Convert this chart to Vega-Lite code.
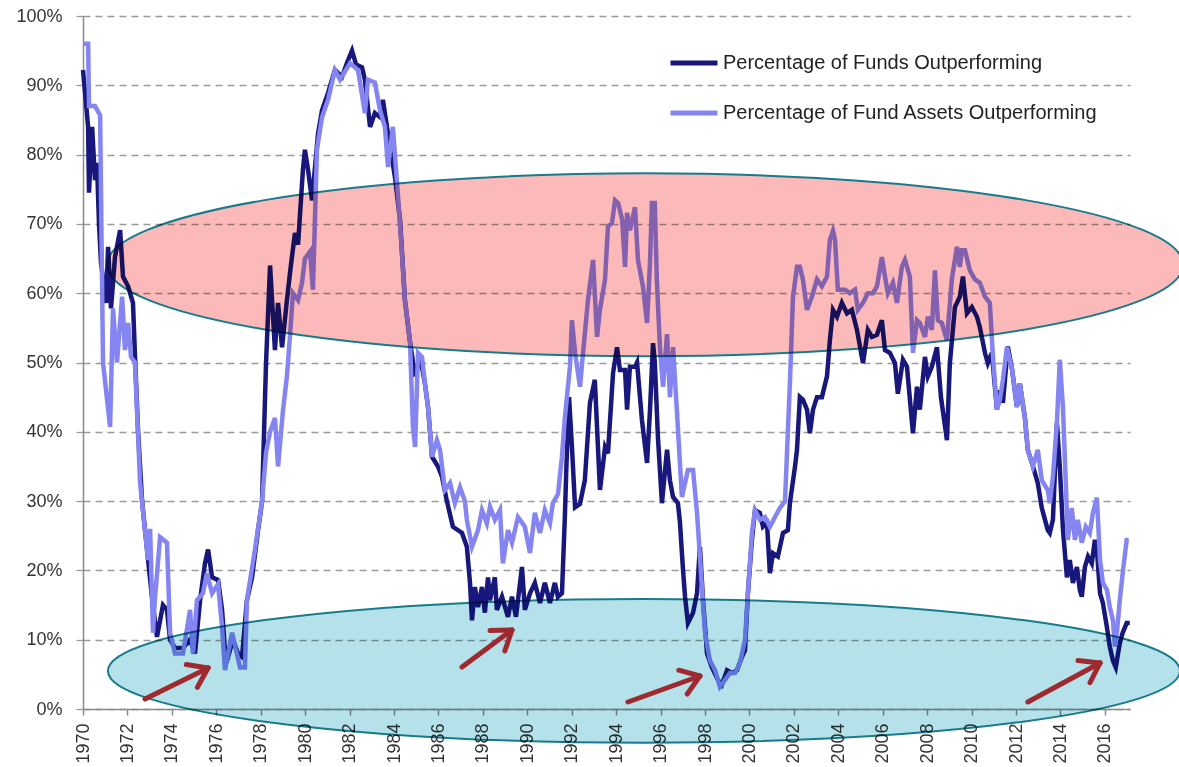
{
  "$schema": "https://vega.github.io/schema/vega-lite/v6.json",
  "autosize": {"type": "none"},
  "padding": {"left": 83, "top": 16, "right": 49, "bottom": 58},
  "width": 1047,
  "height": 693,
  "background": "white",
  "config": {"view": {"stroke": null}, "font": "Liberation Sans"},
  "datasets": {
    "funds": [
      {"d":1970.00,"v":92.2},{"d":1970.23,"v":84},{"d":1970.27,"v":74.5},{"d":1970.41,"v":84},{"d":1970.54,"v":76.3},{"d":1970.63,"v":78.8},{"d":1970.72,"v":70},{"d":1970.81,"v":64.4},{"d":1971.04,"v":58.6},{"d":1971.13,"v":66.7},{"d":1971.26,"v":57.8},{"d":1971.44,"v":65.2},{"d":1971.67,"v":69.1},{"d":1971.80,"v":62.4},{"d":1972.03,"v":61},{"d":1972.25,"v":58.6},{"d":1972.34,"v":51},{"d":1972.48,"v":40},{"d":1972.66,"v":30},{"d":1972.93,"v":21.5},{"d":1973.11,"v":16},{"d":1973.33,"v":10.4},{"d":1973.60,"v":15},{"d":1973.78,"v":14.3},{"d":1973.92,"v":10},{"d":1974.14,"v":8.8},{"d":1974.50,"v":8.8},{"d":1974.82,"v":10},{"d":1975.04,"v":8},{"d":1975.27,"v":15.7},{"d":1975.49,"v":21},{"d":1975.63,"v":23},{"d":1975.81,"v":19},{"d":1976.08,"v":18.6},{"d":1976.26,"v":14.3},{"d":1976.39,"v":8.5},{"d":1976.53,"v":7.5},{"d":1976.75,"v":10},{"d":1976.98,"v":8},{"d":1977.16,"v":7.5},{"d":1977.38,"v":15.7},{"d":1977.61,"v":19},{"d":1977.88,"v":25.8},{"d":1978.06,"v":30},{"d":1978.24,"v":50},{"d":1978.42,"v":64},{"d":1978.51,"v":59},{"d":1978.64,"v":51.8},{"d":1978.78,"v":58.6},{"d":1978.96,"v":52.2},{"d":1979.18,"v":59},{"d":1979.32,"v":63},{"d":1979.54,"v":68.7},{"d":1979.68,"v":67},{"d":1979.90,"v":77.8},{"d":1979.99,"v":80.7},{"d":1980.13,"v":77.8},{"d":1980.31,"v":73.4},{"d":1980.58,"v":83},{"d":1980.76,"v":86.4},{"d":1981.03,"v":88.9},{"d":1981.34,"v":92.2},{"d":1981.66,"v":91.2},{"d":1981.88,"v":93.2},{"d":1982.11,"v":95},{"d":1982.29,"v":93},{"d":1982.56,"v":92.6},{"d":1982.69,"v":90.8},{"d":1982.92,"v":84},{"d":1983.14,"v":86},{"d":1983.37,"v":85.4},{"d":1983.50,"v":87.9},{"d":1983.73,"v":83},{"d":1984.04,"v":76.8},{"d":1984.27,"v":70.6},{"d":1984.49,"v":59},{"d":1984.72,"v":53},{"d":1984.95,"v":48},{"d":1985.17,"v":51},{"d":1985.39,"v":47},{"d":1985.53,"v":43.6},{"d":1985.71,"v":36.4},{"d":1985.98,"v":35},{"d":1986.16,"v":33.5},{"d":1986.38,"v":30},{"d":1986.65,"v":26.3},{"d":1987.06,"v":25.4},{"d":1987.28,"v":23.4},{"d":1987.42,"v":18.2},{"d":1987.51,"v":12.8},{"d":1987.64,"v":17.6},{"d":1987.78,"v":14.7},{"d":1987.96,"v":17.6},{"d":1988.09,"v":13.9},{"d":1988.23,"v":19},{"d":1988.32,"v":15.7},{"d":1988.54,"v":19},{"d":1988.63,"v":14.3},{"d":1988.86,"v":16.2},{"d":1989.13,"v":13.3},{"d":1989.31,"v":16.2},{"d":1989.49,"v":13.3},{"d":1989.76,"v":20.5},{"d":1989.89,"v":14.3},{"d":1990.12,"v":16.7},{"d":1990.34,"v":18.2},{"d":1990.57,"v":15.3},{"d":1990.79,"v":18.2},{"d":1991.02,"v":15.3},{"d":1991.24,"v":18.2},{"d":1991.38,"v":16.2},{"d":1991.56,"v":16.7},{"d":1991.69,"v":27.7},{"d":1991.76,"v":35},{"d":1991.88,"v":45},{"d":1992.01,"v":37.8},{"d":1992.15,"v":29.1},{"d":1992.37,"v":29.6},{"d":1992.59,"v":33},{"d":1992.82,"v":44.2},{"d":1993.04,"v":47.5},{"d":1993.27,"v":31.6},{"d":1993.50,"v":37.8},{"d":1993.63,"v":36.9},{"d":1993.86,"v":48.5},{"d":1994.04,"v":52.2},{"d":1994.17,"v":48.9},{"d":1994.40,"v":48.9},{"d":1994.49,"v":43.2},{"d":1994.62,"v":49.4},{"d":1994.85,"v":49.4},{"d":1994.94,"v":50},{"d":1995.16,"v":41.7},{"d":1995.39,"v":35.5},{"d":1995.52,"v":43},{"d":1995.66,"v":52.8},{"d":1995.74,"v":50},{"d":1995.88,"v":39.2},{"d":1996.06,"v":29.7},{"d":1996.29,"v":37.4},{"d":1996.42,"v":33},{"d":1996.56,"v":30.6},{"d":1996.78,"v":29.7},{"d":1996.87,"v":27},{"d":1997.00,"v":20.5},{"d":1997.10,"v":16.2},{"d":1997.23,"v":12.4},{"d":1997.46,"v":13.9},{"d":1997.64,"v":16.7},{"d":1997.77,"v":23.4},{"d":1997.91,"v":15.7},{"d":1998.09,"v":8},{"d":1998.31,"v":6},{"d":1998.58,"v":4.2},{"d":1998.76,"v":3.5},{"d":1998.99,"v":5.6},{"d":1999.21,"v":5.2},{"d":1999.44,"v":5.6},{"d":1999.66,"v":7.5},{"d":1999.80,"v":8.5},{"d":1999.93,"v":16.7},{"d":2000.11,"v":24.4},{"d":2000.25,"v":28.7},{"d":2000.47,"v":28.3},{"d":2000.61,"v":26.3},{"d":2000.79,"v":26.8},{"d":2000.92,"v":19.6},{"d":2001.06,"v":22.5},{"d":2001.28,"v":22},{"d":2001.51,"v":25.4},{"d":2001.73,"v":25.8},{"d":2001.82,"v":29.7},{"d":2002.05,"v":35},{"d":2002.14,"v":37.4},{"d":2002.27,"v":45},{"d":2002.41,"v":44.6},{"d":2002.59,"v":43.2},{"d":2002.72,"v":39.8},{"d":2002.86,"v":43.2},{"d":2003.04,"v":45},{"d":2003.26,"v":45},{"d":2003.49,"v":48},{"d":2003.62,"v":53.2},{"d":2003.76,"v":57.6},{"d":2003.94,"v":56.6},{"d":2004.16,"v":58.6},{"d":2004.39,"v":57.1},{"d":2004.61,"v":57.6},{"d":2004.84,"v":54.7},{"d":2005.11,"v":49.9},{"d":2005.33,"v":54.7},{"d":2005.51,"v":53.7},{"d":2005.74,"v":54},{"d":2005.96,"v":56.1},{"d":2006.10,"v":51.8},{"d":2006.32,"v":51.4},{"d":2006.55,"v":49.9},{"d":2006.68,"v":45.5},{"d":2006.91,"v":50.4},{"d":2007.09,"v":49.4},{"d":2007.36,"v":39.8},{"d":2007.54,"v":46.5},{"d":2007.67,"v":43.2},{"d":2007.90,"v":50.8},{"d":2008.03,"v":48},{"d":2008.21,"v":49.4},{"d":2008.44,"v":52.2},{"d":2008.62,"v":45},{"d":2008.89,"v":38.8},{"d":2009.02,"v":49.9},{"d":2009.25,"v":58},{"d":2009.47,"v":59.5},{"d":2009.61,"v":62.4},{"d":2009.79,"v":57.1},{"d":2010.01,"v":58},{"d":2010.24,"v":56.6},{"d":2010.37,"v":55.1},{"d":2010.60,"v":51.4},{"d":2010.73,"v":49.9},{"d":2010.91,"v":51.4},{"d":2011.14,"v":43.2},{"d":2011.27,"v":46},{"d":2011.41,"v":44.2},{"d":2011.63,"v":52.3},{"d":2011.82,"v":49},{"d":2012.04,"v":43.6},{"d":2012.17,"v":47},{"d":2012.40,"v":42},{"d":2012.53,"v":37.4},{"d":2012.76,"v":35},{"d":2012.98,"v":32.6},{"d":2013.16,"v":29},{"d":2013.43,"v":25.8},{"d":2013.52,"v":25.4},{"d":2013.66,"v":27.3},{"d":2013.84,"v":41.3},{"d":2013.97,"v":35},{"d":2014.11,"v":26},{"d":2014.29,"v":19},{"d":2014.42,"v":21.5},{"d":2014.56,"v":18.2},{"d":2014.74,"v":20.5},{"d":2014.87,"v":17.2},{"d":2014.96,"v":16.2},{"d":2015.10,"v":20.5},{"d":2015.24,"v":22},{"d":2015.41,"v":21},{"d":2015.55,"v":24.4},{"d":2015.64,"v":23},{"d":2015.78,"v":16.7},{"d":2015.91,"v":15.3},{"d":2016.09,"v":11.8},{"d":2016.22,"v":9},{"d":2016.36,"v":7},{"d":2016.49,"v":6},{"d":2016.67,"v":9.5},{"d":2016.80,"v":11},{"d":2016.98,"v":12.4},{"d":2017.12,"v":12.4}
    ],
    "assets": [
      {"d":1970.00,"v":96},{"d":1970.23,"v":96},{"d":1970.27,"v":87},{"d":1970.54,"v":87},{"d":1970.77,"v":85.7},{"d":1970.90,"v":50},{"d":1971.22,"v":40.7},{"d":1971.35,"v":57.8},{"d":1971.53,"v":50},{"d":1971.76,"v":59.5},{"d":1971.89,"v":51.8},{"d":1972.03,"v":55.7},{"d":1972.16,"v":50.8},{"d":1972.34,"v":50},{"d":1972.57,"v":32.6},{"d":1972.79,"v":25.8},{"d":1972.93,"v":21.5},{"d":1973.02,"v":26},{"d":1973.15,"v":11},{"d":1973.24,"v":16},{"d":1973.47,"v":24.8},{"d":1973.78,"v":24},{"d":1973.92,"v":11},{"d":1974.14,"v":8},{"d":1974.50,"v":8},{"d":1974.82,"v":14.3},{"d":1974.95,"v":8},{"d":1975.13,"v":15.7},{"d":1975.40,"v":16.7},{"d":1975.58,"v":19.6},{"d":1975.81,"v":16.7},{"d":1976.08,"v":18},{"d":1976.26,"v":11.8},{"d":1976.39,"v":5.6},{"d":1976.71,"v":11},{"d":1977.07,"v":6},{"d":1977.29,"v":6},{"d":1977.38,"v":15.7},{"d":1977.74,"v":23},{"d":1978.06,"v":30},{"d":1978.24,"v":37},{"d":1978.42,"v":40},{"d":1978.64,"v":42},{"d":1978.78,"v":35},{"d":1979.00,"v":43},{"d":1979.18,"v":48},{"d":1979.32,"v":54},{"d":1979.45,"v":60},{"d":1979.68,"v":59},{"d":1979.86,"v":61.5},{"d":1979.99,"v":65},{"d":1980.22,"v":66},{"d":1980.35,"v":60.5},{"d":1980.53,"v":80.7},{"d":1980.76,"v":85.4},{"d":1981.03,"v":87.9},{"d":1981.34,"v":92.2},{"d":1981.57,"v":90.8},{"d":1982.02,"v":93.2},{"d":1982.38,"v":92.2},{"d":1982.69,"v":86},{"d":1982.83,"v":90.8},{"d":1983.14,"v":90.4},{"d":1983.37,"v":86.4},{"d":1983.59,"v":84},{"d":1983.73,"v":78.2},{"d":1983.95,"v":84},{"d":1984.27,"v":70},{"d":1984.49,"v":59},{"d":1984.72,"v":53},{"d":1984.85,"v":40.7},{"d":1984.95,"v":37.8},{"d":1985.08,"v":51.4},{"d":1985.26,"v":50.8},{"d":1985.39,"v":47},{"d":1985.53,"v":43.6},{"d":1985.71,"v":36.4},{"d":1985.93,"v":38.8},{"d":1986.07,"v":37.4},{"d":1986.29,"v":31.6},{"d":1986.52,"v":32.6},{"d":1986.74,"v":29.7},{"d":1986.97,"v":32},{"d":1987.19,"v":30},{"d":1987.28,"v":27.3},{"d":1987.51,"v":23.4},{"d":1987.78,"v":25.8},{"d":1987.96,"v":28.7},{"d":1988.18,"v":26.8},{"d":1988.32,"v":29.2},{"d":1988.54,"v":27.3},{"d":1988.77,"v":28.7},{"d":1988.90,"v":21},{"d":1989.13,"v":25.8},{"d":1989.31,"v":24},{"d":1989.58,"v":27.7},{"d":1989.89,"v":26.3},{"d":1990.12,"v":22.5},{"d":1990.34,"v":28.3},{"d":1990.57,"v":25.4},{"d":1990.79,"v":28.7},{"d":1991.02,"v":26.8},{"d":1991.15,"v":29.7},{"d":1991.38,"v":31},{"d":1991.56,"v":36.4},{"d":1991.69,"v":42},{"d":1991.92,"v":49.4},{"d":1992.01,"v":56.1},{"d":1992.15,"v":51.4},{"d":1992.37,"v":46.5},{"d":1992.73,"v":59},{"d":1992.96,"v":64.8},{"d":1993.14,"v":53.7},{"d":1993.27,"v":57.6},{"d":1993.50,"v":62},{"d":1993.63,"v":69.6},{"d":1993.81,"v":70.1},{"d":1993.95,"v":73.4},{"d":1994.09,"v":73},{"d":1994.27,"v":70.6},{"d":1994.40,"v":63.8},{"d":1994.49,"v":71.6},{"d":1994.62,"v":69.1},{"d":1994.85,"v":72.4},{"d":1994.98,"v":64.8},{"d":1995.21,"v":60.9},{"d":1995.39,"v":55.7},{"d":1995.52,"v":64.2},{"d":1995.61,"v":73},{"d":1995.74,"v":73},{"d":1995.83,"v":62},{"d":1995.97,"v":52.2},{"d":1996.11,"v":46.5},{"d":1996.29,"v":54.1},{"d":1996.42,"v":45},{"d":1996.56,"v":52.2},{"d":1996.74,"v":42.7},{"d":1996.96,"v":30.6},{"d":1997.23,"v":34.5},{"d":1997.46,"v":34.5},{"d":1997.64,"v":28.3},{"d":1997.86,"v":17.6},{"d":1998.00,"v":11},{"d":1998.22,"v":7},{"d":1998.45,"v":5.6},{"d":1998.67,"v":3.2},{"d":1998.90,"v":4.2},{"d":1999.12,"v":5.2},{"d":1999.35,"v":5.2},{"d":1999.57,"v":6.6},{"d":1999.80,"v":10},{"d":1999.93,"v":16.7},{"d":2000.11,"v":25.4},{"d":2000.25,"v":28.7},{"d":2000.47,"v":27.3},{"d":2000.70,"v":27.7},{"d":2000.92,"v":26.3},{"d":2001.15,"v":27.7},{"d":2001.37,"v":29},{"d":2001.60,"v":30},{"d":2001.82,"v":47},{"d":2001.96,"v":59.5},{"d":2002.14,"v":63.8},{"d":2002.27,"v":63.8},{"d":2002.41,"v":61.9},{"d":2002.59,"v":57.6},{"d":2002.81,"v":59.5},{"d":2003.04,"v":62},{"d":2003.26,"v":61},{"d":2003.49,"v":62.4},{"d":2003.62,"v":67.7},{"d":2003.76,"v":69},{"d":2003.85,"v":67.7},{"d":2003.98,"v":60.5},{"d":2004.30,"v":60.5},{"d":2004.52,"v":60},{"d":2004.75,"v":60.5},{"d":2004.88,"v":57.6},{"d":2005.11,"v":58.6},{"d":2005.33,"v":60},{"d":2005.56,"v":60},{"d":2005.74,"v":61},{"d":2005.96,"v":65.2},{"d":2006.10,"v":62.4},{"d":2006.23,"v":60},{"d":2006.46,"v":61.5},{"d":2006.64,"v":58.6},{"d":2006.86,"v":63.8},{"d":2007.00,"v":64.8},{"d":2007.22,"v":62.4},{"d":2007.36,"v":51.4},{"d":2007.54,"v":56.1},{"d":2007.67,"v":55.7},{"d":2007.90,"v":53.7},{"d":2008.03,"v":56.6},{"d":2008.21,"v":54.7},{"d":2008.35,"v":63.3},{"d":2008.48,"v":56.1},{"d":2008.66,"v":55.7},{"d":2008.89,"v":53.2},{"d":2009.11,"v":62},{"d":2009.34,"v":66.7},{"d":2009.47,"v":63.8},{"d":2009.56,"v":66.2},{"d":2009.70,"v":66.2},{"d":2009.92,"v":63.3},{"d":2010.15,"v":62},{"d":2010.37,"v":61.5},{"d":2010.60,"v":59.5},{"d":2010.82,"v":58.6},{"d":2010.95,"v":51.4},{"d":2011.14,"v":43.2},{"d":2011.27,"v":44.6},{"d":2011.41,"v":47.5},{"d":2011.59,"v":52.2},{"d":2011.82,"v":49},{"d":2012.04,"v":43.6},{"d":2012.17,"v":47},{"d":2012.40,"v":42},{"d":2012.53,"v":37.4},{"d":2012.76,"v":35},{"d":2012.98,"v":37.4},{"d":2013.16,"v":33},{"d":2013.43,"v":31.6},{"d":2013.52,"v":29.7},{"d":2013.66,"v":33.5},{"d":2013.84,"v":41.3},{"d":2013.97,"v":50.4},{"d":2014.11,"v":43.6},{"d":2014.24,"v":32.6},{"d":2014.33,"v":24.4},{"d":2014.51,"v":29},{"d":2014.65,"v":24.4},{"d":2014.78,"v":27.3},{"d":2014.96,"v":24},{"d":2015.14,"v":26.3},{"d":2015.32,"v":25.4},{"d":2015.46,"v":28.3},{"d":2015.64,"v":30.5},{"d":2015.78,"v":21.5},{"d":2015.91,"v":18.2},{"d":2016.09,"v":17.2},{"d":2016.22,"v":14.7},{"d":2016.36,"v":12.8},{"d":2016.45,"v":9},{"d":2016.54,"v":11},{"d":2016.67,"v":15.7},{"d":2016.80,"v":19.6},{"d":2016.98,"v":24.4},{"d":2017.07,"v":24.4}
    ],
    "arrows": [
      {"d":1972.79,"v":1.44,"d2":1975.63,"v2":5.92},{"d":1975.63,"v":5.92,"d2":1974.65,"v2":6.41},{"d":1975.63,"v":5.92,"d2":1975.15,"v2":3.13},
      {"d":1987.06,"v":6.06,"d2":1989.31,"v2":11.40},{"d":1989.31,"v":11.40,"d2":1988.32,"v2":11.31},{"d":1989.31,"v":11.40,"d2":1988.99,"v2":8.38},
      {"d":1994.53,"v":1.01,"d2":1997.77,"v2":4.76},{"d":1997.77,"v":4.76,"d2":1996.82,"v2":5.60},{"d":1997.77,"v":4.76,"d2":1997.20,"v2":2.16},
      {"d":2012.53,"v":1.01,"d2":2015.78,"v2":6.64},{"d":2015.78,"v":6.64,"d2":2014.79,"v2":7.00},{"d":2015.78,"v":6.64,"d2":2015.33,"v2":3.80}
    ]
  },
  "encoding": {
    "x": {"field": "d", "type": "quantitative",
      "scale": {"domain": [1970, 2017.13], "nice": false, "zero": false},
      "axis": {"title": null, "grid": false, "values": [1970,1972,1974,1976,1978,1980,1982,1984,1986,1988,1990,1992,1994,1996,1998,2000,2002,2004,2006,2008,2010,2012,2014,2016],
        "format": "d", "labelAngle": -90, "labelFontSize": 18, "labelColor": "#333333", "labelPadding": 8,
        "tickSize": 6, "tickColor": "#8a8a8a", "tickWidth": 1.5, "domainColor": "#8a8a8a", "domainWidth": 1.5, "labelFlush": false, "labelOverlap": false}},
    "y": {"field": "v", "type": "quantitative",
      "scale": {"domain": [0, 100], "nice": false},
      "axis": {"title": null, "values": [0,10,20,30,40,50,60,70,80,90,100], "labelExpr": "datum.value + '%'",
        "labelFontSize": 18, "labelColor": "#333333", "labelPadding": 14,
        "grid": true, "gridDash": [7, 5], "gridColor": "#9a9a9a", "gridWidth": 1.3,
        "tickSize": 7, "tickColor": "#9a9a9a", "tickWidth": 1.3, "domainColor": "#8a8a8a", "domainWidth": 1.5}}
  },
  "layer": [
    {"data": {"name": "funds"}, "mark": {"type": "line", "strokeWidth": 4.5, "interpolate": "linear"},
      "encoding": {"color": {"datum": "Percentage of Funds Outperforming",
        "scale": {"domain": ["Percentage of Funds Outperforming", "Percentage of Fund Assets Outperforming"], "range": ["#17177c", "#8585f2"]},
        "legend": {"title": null, "orient": "none", "legendX": 585, "legendY": 21, "padding": 0, "rowPadding": 14,
          "symbolType": "stroke", "symbolSize": 2209, "symbolStrokeWidth": 5, "labelFont": "Liberation Sans", "labelFontSize": 20,
          "labelColor": "#222222", "labelLimit": 600, "labelOffset": 3}}}},
    {"data": {"name": "assets"}, "mark": {"type": "line", "strokeWidth": 4.5, "interpolate": "linear"},
      "encoding": {"color": {"datum": "Percentage of Fund Assets Outperforming"}}},
    {"data": {"values": [{"d": 1995.3, "v": 64.1}]},
      "mark": {"type": "point", "filled": true, "opacity": 1, "fill": "#fbb9b9", "stroke": "#177b8c", "strokeWidth": 2, "blend": "multiply",
        "size": 1157776, "shape": "M -1 0 C -1 -0.0939 -0.5523 -0.17 0 -0.17 C 0.5523 -0.17 1 -0.0939 1 0 C 1 0.0939 0.5523 0.17 0 0.17 C -0.5523 0.17 -1 0.0939 -1 0 Z"}},
    {"data": {"values": [{"d": 1995.25, "v": 5.5}]},
      "mark": {"type": "point", "filled": true, "opacity": 1, "fill": "#b5e2ea", "stroke": "#177b8c", "strokeWidth": 2, "blend": "multiply",
        "size": 1149184, "shape": "M -1 0 C -1 -0.074 -0.5523 -0.134 0 -0.134 C 0.5523 -0.134 1 -0.074 1 0 C 1 0.074 0.5523 0.134 0 0.134 C -0.5523 0.134 -1 0.074 -1 0 Z"}},
    {"data": {"name": "arrows"}, "mark": {"type": "rule", "color": "#9e2a2f", "strokeWidth": 5, "strokeCap": "round"},
      "encoding": {"x2": {"field": "d2"}, "y2": {"field": "v2"}}}
  ]
}
